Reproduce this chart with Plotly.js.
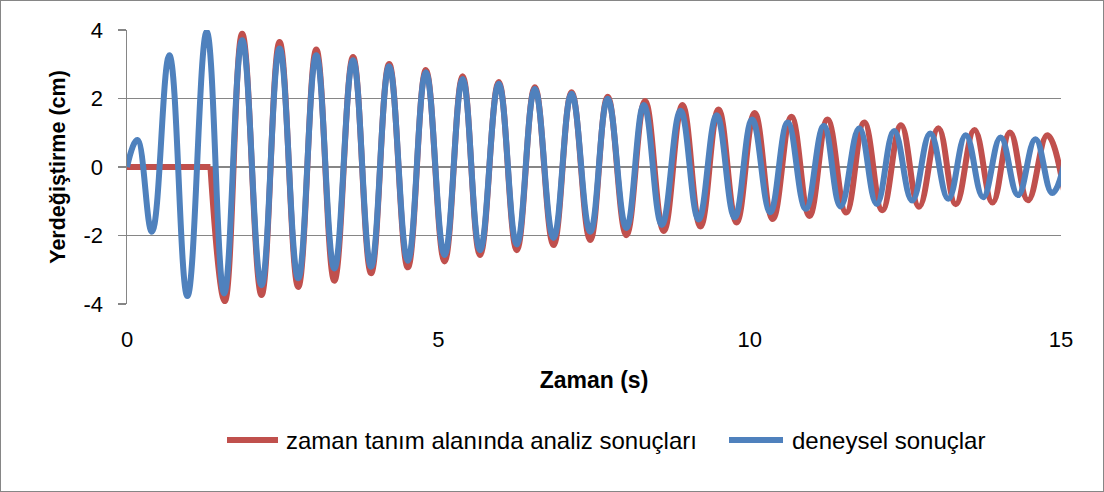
<!DOCTYPE html>
<html>
<head>
<meta charset="utf-8">
<script src="https://cdn.plot.ly/plotly-3.0.1.min.js"></script>
<style>
  html, body { margin: 0; padding: 0; background: #fff; }
  #wrap { position: relative; width: 1104px; height: 492px; }
  #chart { width: 1104px; height: 492px; }
  #frame { position: absolute; left: 0; top: 0; width: 1104px; height: 492px; box-sizing: border-box; border: 1px solid #868686; pointer-events: none; }
</style>
</head>
<body>
<div id="wrap"><div id="chart"></div><div id="frame"></div></div>
<script>
// Series names
const seriesAnalysis = "zaman tanım alanında analiz sonuçları";
const seriesTest = "deneysel sonuçlar";

// Analysis result: zero until excitation starts, then oscillation extrema (time s, displacement cm)
const analysisFlatT = [0, 1.34];
const analysisFlatY = [0, 0];
const analysisT = [1.34, 1.57, 1.85, 2.16, 2.45, 2.75, 3.04, 3.33, 3.63, 3.92, 4.21, 4.51, 4.80, 5.10, 5.39, 5.67, 5.97, 6.26, 6.55, 6.85, 7.14, 7.44, 7.72, 8.02, 8.32, 8.62, 8.92, 9.21, 9.50, 9.79, 10.08, 10.37, 10.67, 10.96, 11.25, 11.55, 11.84, 12.13, 12.43, 12.72, 13.03, 13.31, 13.61, 13.90, 14.18, 14.47, 14.78, 15.07];
const analysisY = [0, -3.92, 3.89, -3.74, 3.65, -3.50, 3.43, -3.32, 3.21, -3.10, 3.01, -2.93, 2.83, -2.76, 2.65, -2.57, 2.48, -2.43, 2.33, -2.28, 2.18, -2.13, 2.05, -1.99, 1.93, -1.87, 1.81, -1.74, 1.68, -1.62, 1.58, -1.52, 1.47, -1.43, 1.39, -1.33, 1.30, -1.26, 1.22, -1.16, 1.13, -1.09, 1.08, -1.04, 1.01, -0.97, 0.93, -0.92];

// Experimental result extrema (time s, displacement cm)
const testT = [0, 0.165, 0.40, 0.68, 0.97, 1.28, 1.56, 1.85, 2.16, 2.45, 2.75, 3.04, 3.33, 3.63, 3.92, 4.21, 4.51, 4.80, 5.10, 5.39, 5.67, 5.97, 6.26, 6.55, 6.85, 7.14, 7.44, 7.72, 8.02, 8.30, 8.59, 8.89, 9.18, 9.47, 9.76, 10.04, 10.33, 10.61, 10.90, 11.19, 11.46, 11.76, 12.04, 12.32, 12.61, 12.90, 13.19, 13.47, 13.75, 14.03, 14.31, 14.59, 14.86, 15.13];
const testY = [0, 0.79, -1.89, 3.26, -3.77, 3.95, -3.69, 3.70, -3.45, 3.46, -3.25, 3.26, -2.96, 3.12, -2.91, 2.94, -2.74, 2.77, -2.57, 2.57, -2.43, 2.43, -2.26, 2.28, -2.07, 2.14, -1.89, 1.99, -1.78, 1.81, -1.69, 1.64, -1.53, 1.51, -1.47, 1.39, -1.32, 1.30, -1.22, 1.20, -1.15, 1.13, -1.08, 1.05, -0.98, 0.98, -0.93, 0.93, -0.88, 0.86, -0.82, 0.81, -0.76, 0.75];

// Axis ticks
const xTicks = [0, 5, 10, 15];
const yTicks = [-4, -2, 0, 2, 4];

const RED = "#C0504D", BLUE = "#4F81BD", GRID = "#868686";
const FONT = "Liberation Sans, Arial, sans-serif";

const traces = [
  { x: analysisFlatT, y: analysisFlatY, mode: "lines", name: seriesAnalysis, showlegend: false,
    line: { color: RED, width: 6 }, hoverinfo: "skip" },
  { x: analysisT, y: analysisY, mode: "lines", name: seriesAnalysis, showlegend: false,
    line: { color: RED, width: 6, shape: "spline", smoothing: 1.2 } },
  { x: testT, y: testY, mode: "lines", name: seriesTest, showlegend: false,
    line: { color: BLUE, width: 6, shape: "spline", smoothing: 1.2 } }
];

// Plot area geometry (pixels) used to place the legend below the plot in paper coordinates
const PL = 127, PW = 934, PT = 30, PH = 274;
const px2x = p => (p - PL) / PW;
const py2y = p => (PT + PH - p) / PH;
const legendRowY = py2y(440);
const legendItems = [
  { name: seriesAnalysis, color: RED, x0: 227, x1: 278, tx: 284 },
  { name: seriesTest, color: BLUE, x0: 729, x1: 783, tx: 790 }
];

const layout = {
  width: 1104, height: 492,
  margin: { l: PL, r: 1104 - PL - PW, t: PT, b: 492 - PT - PH },
  paper_bgcolor: "#fff", plot_bgcolor: "#fff",
  font: { family: FONT, size: 22, color: "#000" },
  showlegend: false,
  shapes: legendItems.map(it => ({
    type: "line", xref: "paper", yref: "paper",
    x0: px2x(it.x0), x1: px2x(it.x1), y0: legendRowY, y1: legendRowY,
    line: { color: it.color, width: 6 }
  })),
  annotations: legendItems.map(it => ({
    xref: "paper", yref: "paper", x: px2x(it.tx), y: legendRowY,
    xanchor: "left", yanchor: "middle", showarrow: false, text: it.name,
    font: { family: FONT, size: 24, color: "#000" }
  })),
  xaxis: {
    range: [0, 15], tickvals: xTicks, ticktext: xTicks.map(String),
    showgrid: false, zeroline: false, showline: false, ticks: "",
    ticklabelstandoff: 20,
    tickfont: { family: FONT, size: 22 },
    title: { text: "<b>Zaman (s)</b>", font: { family: FONT, size: 23 }, standoff: 20 }
  },
  yaxis: {
    range: [-4, 4], tickvals: yTicks, ticktext: yTicks.map(String),
    showgrid: true, gridcolor: GRID, gridwidth: 1.5, zeroline: false,
    showline: true, linecolor: GRID, linewidth: 1.5,
    ticks: "outside", ticklen: 8, tickcolor: GRID, tickwidth: 1.5,
    ticklabelstandoff: 10,
    tickfont: { family: FONT, size: 22 },
    title: { text: "<b>Yerdeğiştirme (cm)</b>", font: { family: FONT, size: 21.5 }, standoff: 12 }
  }
};

Plotly.newPlot("chart", traces, layout, { staticPlot: true, displayModeBar: false });
</script>
</body>
</html>
